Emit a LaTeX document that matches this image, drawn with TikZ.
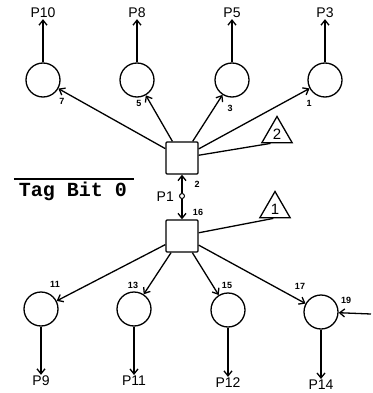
\documentclass[tikz,border=0pt]{standalone}
\usepackage{fontspec}
\setmainfont{Liberation Sans}
\newfontfamily\tagfont{Liberation Mono}
\usetikzlibrary{arrows.meta, shapes.geometric, calc}
\tikzstyle{place} = [circle, draw, line width=1.3pt, minimum size=34pt, inner sep=0pt]
\tikzstyle{trans} = [rectangle, draw, line width=1.3pt, rounded corners=1pt,
  minimum size=32pt, inner sep=0pt]
\tikzstyle{tri} = [regular polygon, regular polygon sides=3, draw, line width=1.3pt,
  minimum size=35pt, inner sep=0pt, font=\fontsize{15}{15}\selectfont]
\tikzstyle{port} = [inner sep=1pt, font=\fontsize{14}{14}\selectfont]
\tikzstyle{num} = [inner sep=0pt, font=\bfseries\fontsize{9}{9}\selectfont]
\tikzstyle{link} = [line width=1.3pt]
\tikzstyle{arrow} = [line width=1.3pt, -{Straight Barb[length=5pt, width=8pt]}]

\begin{document}
\begin{tikzpicture}[x=1pt, y=-1pt]
    \useasboundingbox (0,0) rectangle (372,393);
    % transitions and tag
    \node[trans] (tA) at (182,158) {};
    \node[trans] (tB) at (182,236) {};
    \node[circle, draw, line width=1pt, minimum size=5pt, inner sep=0pt] (p1) at (182,196) {};
    \node[port, anchor=east] (lP1) at (175,197) {P1};
    \node[tri] (tri2) at (277,134) {2};
    \node[tri] (tri1) at (275,209) {1};
    \node[inner sep=0pt, font=\tagfont\bfseries\fontsize{20}{20}\selectfont] (tag) at (73,191) {Tag Bit 0};
    \draw[link] ($(tag.west |- 0,179)+(-5,0)$) -- ($(tag.east |- 0,179)+(7,0)$);
    % upper places
    \node[place] (c10) at (43,80) {};
    \node[place] (c8) at (137,80) {};
    \node[place] (c5) at (232,80) {};
    \node[place] (c3) at (325,80) {};
    \node[port] (lP10) at (43,13) {P10};
    \node[port] (lP8) at (137,13) {P8};
    \node[port] (lP5) at (232,13) {P5};
    \node[port] (lP3) at (325,13) {P3};
    % lower places
    \node[place] (c9) at (41,309) {};
    \node[place] (c11) at (134,309) {};
    \node[place] (c12) at (228,310) {};
    \node[place] (c14) at (321,312) {};
    \node[port] (lP9) at (41,381) {P9};
    \node[port] (lP11) at (134,381) {P11};
    \node[port] (lP12) at (228,383) {P12};
    \node[port] (lP14) at (321,385) {P14};
    \coordinate (in19) at (371,314);
    % arc numbers
    \node[num] (n7) at (62,101) {7};
    \node[num] (n5) at (139,103) {5};
    \node[num] (n3) at (230,108) {3};
    \node[num] (n1) at (309,103) {1};
    \node[num] (n2) at (197,184) {2};
    \node[num] (n16) at (198,212) {16};
    \node[num] (n11) at (55,284) {11};
    \node[num] (n13) at (133,285) {13};
    \node[num] (n15) at (227,285) {15};
    \node[num] (n17) at (300,286) {17};
    \node[num] (n19) at (346,300) {19};
    % connectors
    \draw[arrow] (p1) -- (tA);
    \draw[arrow] (p1) -- (tB);
    \draw[link] (tA) -- ($(tri2.corner 2)!0.3!(tri2.corner 3)$);
    \draw[link] (tB) -- ($(tri1.corner 2)!0.45!(tri1.corner 3)$);
    \draw[arrow] (tA) -- (c10);
    \draw[arrow] (tA) -- (c8);
    \draw[arrow] (tA) -- (c5);
    \draw[arrow] (tA) -- (c3);
    \draw[arrow] (c10) -- (lP10);
    \draw[arrow] (c8) -- (lP8);
    \draw[arrow] (c5) -- (lP5);
    \draw[arrow] (c3) -- (lP3);
    \draw[arrow] (tB) -- (c9);
    \draw[arrow] (tB) -- (c11);
    \draw[arrow] (tB) -- (c12);
    \draw[arrow] (tB) -- (c14);
    \draw[arrow] (c9) -- (lP9);
    \draw[arrow] (c11) -- (lP11);
    \draw[arrow] (c12) -- (lP12);
    \draw[arrow] (c14) -- (lP14);
    \draw[arrow] (in19) -- (c14);
  \end{tikzpicture}
\end{document}
